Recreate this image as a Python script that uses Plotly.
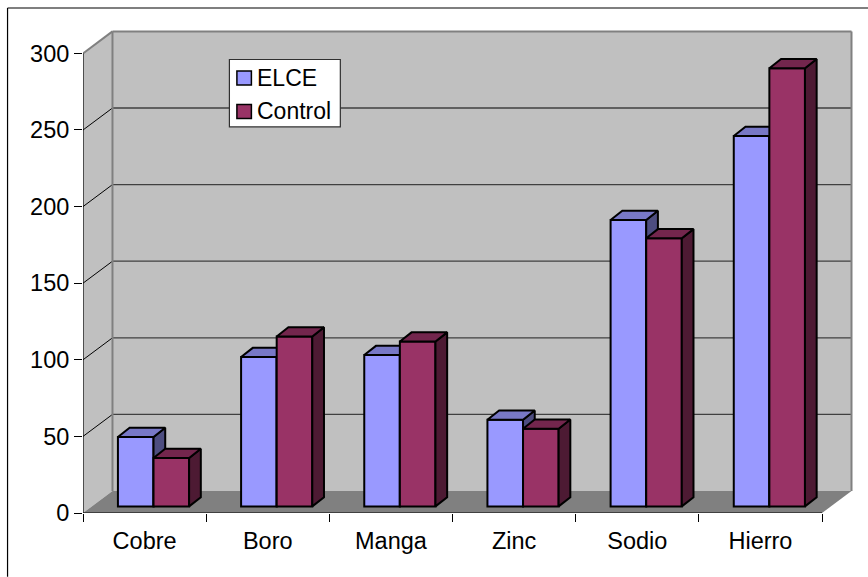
import plotly.graph_objects as go

# ---- data ----
categories = ["Cobre", "Boro", "Manga", "Zinc", "Sodio", "Hierro"]
elce = [45.3, 97.5, 98.8, 56.6, 187, 241.8]
control = [31.6, 110.9, 107.6, 50.7, 175, 286]
y_ticks = [0, 50, 100, 150, 200, 250, 300]

# ---- geometry of the pseudo-3D look (category / value units) ----
L, R, T, B = 82.5, 856.0, 26.0, 513.3   # plot rectangle, px
PX_X, PX_Y = 123.25, 1.533              # px per category / per value unit
WALL_DX, WALL_DY = 0.2394, 14.35        # back wall shift
BAR_DX, BAR_DY = 0.095, 6.0             # bar depth shift
BAR_W, BAR_BASE = 0.289, 4.3
X_E, X_C = 0.428, 0.717                 # bar centres inside a category
X_RANGE = [0, (R - L) / PX_X]
Y_RANGE = [0, (B - T) / PX_Y]
N = len(categories)
YMAX = y_ticks[-1]

FONT = "Liberation Sans, Arial, sans-serif"
C_E, C_E_TOP, C_E_SIDE = "#9999FF", "#7878C6", "#4D4D80"
C_C, C_C_TOP, C_C_SIDE = "#993366", "#73264D", "#4D1A33"
WALL, FLOOR, EDGE = "#C0C0C0", "#808080", "#808080"
LW = 2


def px(x):
    return (x - L) / (R - L)


def py(y):
    return (B - y) / (B - T)


fig = go.Figure()


def series(name, values, centre, colour, top, side, xa, ya):
    xs = [i + centre for i in range(N)]
    fig.add_trace(go.Bar(x=xs, y=values, base=BAR_BASE, width=BAR_W, name=name,
                         marker=dict(color=colour, line=dict(color="black", width=LW)),
                         xaxis=xa, yaxis=ya, hoverinfo="y"))
    for x, v in zip(xs, values):
        x0, x1 = x - BAR_W / 2, x + BAR_W / 2
        t = BAR_BASE + v
        fig.add_trace(go.Scatter(
            x=[x1, x1 + BAR_DX, x1 + BAR_DX, x1, x1],
            y=[BAR_BASE, BAR_BASE + BAR_DY, t + BAR_DY, t, BAR_BASE],
            mode="lines", fill="toself", fillcolor=side,
            line=dict(color="black", width=LW), xaxis=xa, yaxis=ya,
            hoverinfo="skip", showlegend=False, cliponaxis=False))
        fig.add_trace(go.Scatter(
            x=[x0, x1, x1 + BAR_DX, x0 + BAR_DX, x0],
            y=[t, t, t + BAR_DY, t + BAR_DY, t],
            mode="lines", fill="toself", fillcolor=top,
            line=dict(color="black", width=LW), xaxis=xa, yaxis=ya,
            hoverinfo="skip", showlegend=False, cliponaxis=False))


series("ELCE", elce, X_E, C_E, C_E_TOP, C_E_SIDE, "x", "y")
series("Control", control, X_C, C_C, C_C_TOP, C_C_SIDE, "x2", "y2")

# axis lines (they stop at the last tick, unlike the plot rectangle)
fig.add_trace(go.Scatter(x=[0, 0], y=[0, YMAX], mode="lines", line=dict(color="black", width=1.2),
                         hoverinfo="skip", showlegend=False, cliponaxis=False))
fig.add_trace(go.Scatter(x=[0, N], y=[0, 0], mode="lines", line=dict(color="black", width=1.2),
                         hoverinfo="skip", showlegend=False, cliponaxis=False))

shapes = []


def poly(xs, ys, fill, line=None, width=0):
    path = "M" + " L".join(f"{a},{b}" for a, b in zip(xs, ys)) + " Z"
    shapes.append(dict(type="path", path=path, xref="x", yref="y", layer="below", fillcolor=fill,
                       line=dict(color=line or fill, width=width)))


def seg(x0, y0, x1, y1, colour, width):
    shapes.append(dict(type="line", x0=x0, y0=y0, x1=x1, y1=y1, xref="x", yref="y", layer="below",
                       line=dict(color=colour, width=width)))


# walls and floor
poly([WALL_DX, N + WALL_DX, N + WALL_DX, WALL_DX],
     [WALL_DY, WALL_DY, YMAX + WALL_DY, YMAX + WALL_DY], WALL)
poly([0, WALL_DX, WALL_DX, 0], [0, WALL_DY, YMAX + WALL_DY, YMAX], WALL)
poly([0, N, N + WALL_DX, WALL_DX], [0, 0, WALL_DY, WALL_DY], FLOOR)
for v in y_ticks[1:-1]:
    seg(WALL_DX, v + WALL_DY, N + WALL_DX, v + WALL_DY, "#404040", 1.3)
    seg(0, v, WALL_DX, v + WALL_DY, "black", 1)
seg(0, YMAX, WALL_DX, YMAX + WALL_DY, EDGE, 2)
seg(WALL_DX, YMAX + WALL_DY, N + WALL_DX, YMAX + WALL_DY, EDGE, 2)
seg(N + WALL_DX, WALL_DY, N + WALL_DX, YMAX + WALL_DY, EDGE, 2)
seg(WALL_DX, WALL_DY, WALL_DX, YMAX + WALL_DY, EDGE, 2)

# outer frame: only the left and top edges fall inside the picture
for x0, y0, x1, y1 in [(7, 577, 7, 8), (7, 8, 868, 8)]:
    shapes.append(dict(type="line", xref="paper", yref="paper", x0=px(x0), y0=py(y0), x1=px(x1), y1=py(y1),
                       line=dict(color="black", width=1.2)))

# legend box
shapes.append(dict(type="rect", xref="paper", yref="paper", x0=px(229), x1=px(340), y0=py(127), y1=py(59.5),
                   fillcolor="white", line=dict(color="#303030", width=1.2)))
annotations = []
for name, colour, yc in [("ELCE", C_E, 78), ("Control", C_C, 111.5)]:
    shapes.append(dict(type="rect", xref="paper", yref="paper", x0=px(236.5), x1=px(251), y0=py(yc + 7), y1=py(yc - 7),
                       fillcolor=colour, line=dict(color="black", width=1.5)))
    annotations.append(dict(text=name, xref="paper", yref="paper", x=px(255), y=py(yc), xanchor="left",
                            yanchor="middle", showarrow=False, font=dict(family=FONT, size=23, color="black")))

fig.update_layout(
    width=868, height=577, autosize=False,
    margin=dict(l=L, r=868 - R, t=T, b=577 - B, pad=0),
    paper_bgcolor="white", plot_bgcolor="white",
    barmode="overlay", showlegend=False,
    shapes=shapes, annotations=annotations,
    font=dict(family=FONT, size=23, color="black"),
    xaxis=dict(range=X_RANGE, tickmode="array", tickvals=[i + 0.5 for i in range(N)], ticktext=categories,
               ticks="", ticklabelstandoff=11, showgrid=False, zeroline=False, showline=False,
               tickfont=dict(family=FONT, size=23.5, color="black"),
               minor=dict(tickmode="array", tickvals=list(range(N + 1)), ticks="outside", ticklen=8,
                          tickwidth=1.2, tickcolor="black", showgrid=False)),
    yaxis=dict(range=Y_RANGE, tickmode="array", tickvals=y_ticks, ticks="outside", ticklen=8, tickwidth=1.2,
               tickcolor="black", showgrid=False, zeroline=False, showline=False,
               tickfont=dict(family=FONT, size=23.5, color="black")),
    xaxis2=dict(range=X_RANGE, overlaying="x", visible=False),
    yaxis2=dict(range=Y_RANGE, overlaying="y", visible=False),
)
fig.write_html("out.html", config=dict(displayModeBar=False),
               post_script="document.body.style.margin='0';document.body.style.overflow='hidden';")
